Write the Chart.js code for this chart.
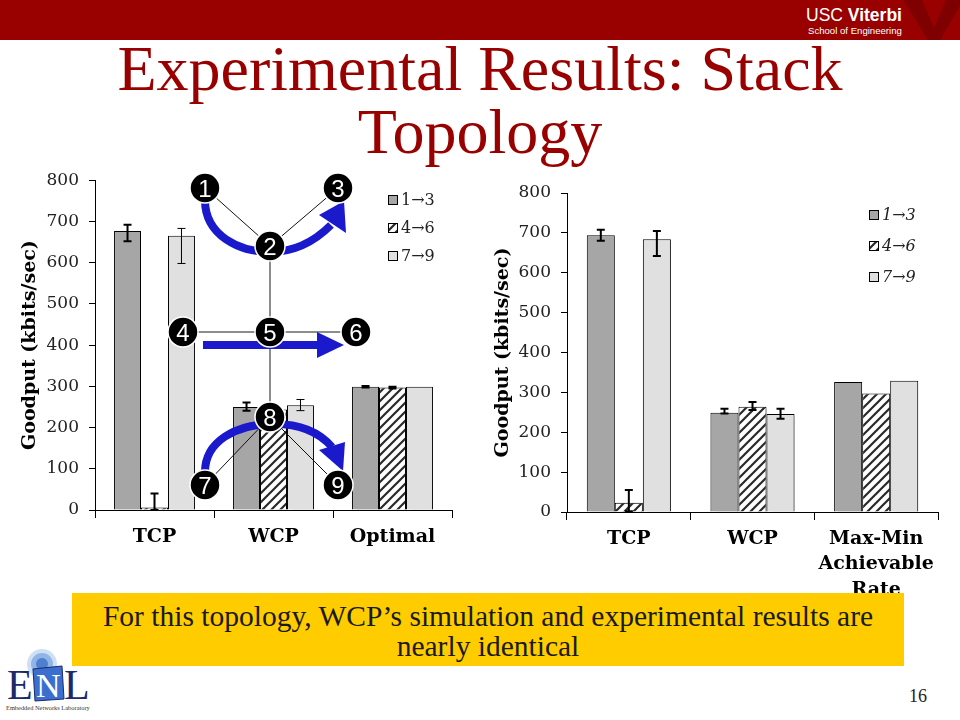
<!DOCTYPE html>
<html>
<head>
<meta charset="utf-8">
<script src="https://cdn.jsdelivr.net/npm/chart.js@4"></script>
<style>
  body { margin: 0; width: 960px; height: 720px; position: relative; overflow: hidden; background: #fff; font-family: "Liberation Serif", serif; }
  .abs { position: absolute; }
  #title { left: 0; top: 37px; width: 960px; text-align: center; font-size: 64px; line-height: 63px; color: #990000; }
  #note { left: 72px; top: 593px; width: 832px; height: 73px; background: #ffcc00; box-sizing: border-box; padding-top: 8px;
          text-align: center; font-size: 29.5px; line-height: 30px; color: #1a1a1a; z-index: 3; }
  #page { left: 909px; top: 686px; font-size: 18px; color: #222; }
</style>
</head>
<body>

<!-- header bar -->
<svg class="abs" style="left:0;top:0" width="960" height="40">
  <rect x="0" y="0" width="960" height="40" fill="#990000"/>
  <polygon points="903,0 922,0 934,28 946,0 960,0 960,6 940,40 928,40" fill="#7e0000"/>
  <text x="806" y="21" fill="#fff" font-family="Liberation Sans" font-size="17.5">USC <tspan font-weight="bold">Viterbi</tspan></text>
  <text x="808" y="34" fill="#fff" font-family="Liberation Sans" font-size="9.6">School of Engineering</text>
</svg>

<div id="title" class="abs">Experimental Results: Stack<br>Topology</div>

<canvas id="leftChart" class="abs" style="left:0;top:160px" width="470" height="400"></canvas>
<canvas id="rightChart" class="abs" style="left:480px;top:170px" width="480" height="440"></canvas>

<!-- stack topology drawing laid over the left chart -->
<svg class="abs" style="left:0;top:0;z-index:2" width="480" height="560">
  <g stroke="#111" stroke-width="1">
    <line x1="205" y1="188" x2="270" y2="246"/>
    <line x1="338" y1="188" x2="270" y2="246"/>
    <line x1="205" y1="485" x2="270" y2="417"/>
    <line x1="338" y1="485" x2="270" y2="417"/>
  </g>
  <g stroke="#666" stroke-width="1.5">
    <line x1="270" y1="246" x2="270" y2="417"/>
    <line x1="183" y1="332" x2="356" y2="332"/>
  </g>
  <g fill="none" stroke="#1a1acc" stroke-width="8">
    <path d="M205,200 C205,236 240,252 270,252 C296,252 316,240 331,225"/>
    <path d="M203,345 L320,345"/>
    <path d="M205,472 C205,441 236,425 270,424 C300,423 320,433 332,447"/>
  </g>
  <g fill="#1a1acc">
    <polygon points="344,201 319,215 346,233"/>
    <polygon points="317,332 344,345 317,358"/>
    <polygon points="345,442 319,450 343,471"/>
  </g>
  <g fill="#000" stroke="#fff" stroke-width="1.5">
    <circle cx="205" cy="188" r="15"/><circle cx="270" cy="246" r="15"/><circle cx="338" cy="188" r="15"/>
    <circle cx="183" cy="332" r="15"/><circle cx="270" cy="332" r="15"/><circle cx="356" cy="332" r="15"/>
    <circle cx="205" cy="485" r="15"/><circle cx="270" cy="417" r="15"/><circle cx="338" cy="485" r="15"/>
  </g>
  <g fill="#fff" font-family="Liberation Sans" font-size="24" text-anchor="middle">
    <text x="205" y="197">1</text><text x="270" y="255">2</text><text x="338" y="197">3</text>
    <text x="183" y="341">4</text><text x="270" y="341">5</text><text x="356" y="341">6</text>
    <text x="205" y="494">7</text><text x="270" y="426">8</text><text x="338" y="494">9</text>
  </g>
</svg>

<div id="note" class="abs">For this topology, WCP’s simulation and experimental results are<br>nearly identical</div>

<!-- ENL logo -->
<svg class="abs" style="left:0;top:640px" width="110" height="80">
  <circle cx="42" cy="24" r="15" fill="#cfe0f5"/>
  <circle cx="42" cy="24" r="11" fill="#8fb4e6"/>
  <circle cx="42" cy="24" r="6" fill="#4f7fcf"/>
  <text x="7" y="59" fill="#1b2a6b" font-family="Liberation Serif" font-size="42">E</text>
  <polygon points="33,29 62,26 64,59 35,61" fill="#3a6fd0" stroke="#1b2a6b" stroke-width="1"/>
  <text x="36" y="57" fill="#fff" font-family="Liberation Serif" font-size="34">N</text>
  <text x="64" y="59" fill="#1b2a6b" font-family="Liberation Serif" font-size="42">L</text>
  <text x="6" y="70" fill="#333" font-family="Liberation Serif" font-size="6.4">Embedded Networks Laboratory</text>
</svg>

<div id="page" class="abs">16</div>

<script>
// flows shown in both charts
const flowLabels = ['1→3', '4→6', '7→9'];

// left chart: testbed experiment
const leftCategories = ['TCP', 'WCP', 'Optimal'];
const left13 = [677, 250, 299];
const left46 = [6, 244, 297];
const left79 = [665, 254, 299];
const left13Low = [652, 241, 297];
const left13High = [692, 261, 301];
const left46Low = [0, 236, 295];
const left46High = [40, 252, 299];
const left79Low = [598, 241, null];
const left79High = [683, 268, null];

// right chart: simulation
const rightCategories = ['TCP', 'WCP', ['Max-Min', 'Achievable', 'Rate']];
const right13 = [694, 249, 326];
const right46 = [23, 264, 297];
const right79 = [684, 246, 329];
const right13Low = [680, 247, null];
const right13High = [708, 259, null];
const right46Low = [2, 256, null];
const right46High = [55, 276, null];
const right79Low = [642, 234, null];
const right79High = [705, 259, null];

const yTicks = [0, 100, 200, 300, 400, 500, 600, 700, 800];

// diagonal hatching for the 4->6 flow
function makeHatch() {
  const c = document.createElement('canvas');
  c.width = 9; c.height = 9;
  const g = c.getContext('2d');
  g.fillStyle = '#fff';
  g.fillRect(0, 0, 9, 9);
  g.strokeStyle = '#2a2a2a';
  g.lineWidth = 2.2;
  g.beginPath();
  g.moveTo(0, 9); g.lineTo(9, 0);
  g.moveTo(-2, 2); g.lineTo(2, -2);
  g.moveTo(7, 11); g.lineTo(11, 7);
  g.stroke();
  return g.createPattern(c, 'repeat');
}
const hatch = makeHatch();
const fills = ['#a6a6a6', hatch, '#e0e0e0'];

const barShadow = {
  id: 'barShadow',
  beforeDatasetsDraw(chart) {
    const ctx = chart.ctx;
    ctx.save();
    ctx.shadowColor = 'rgba(0,0,0,0.18)';
    ctx.shadowBlur = 3;
    ctx.shadowOffsetX = 3;
    ctx.shadowOffsetY = 2;
  },
  afterDatasetsDraw(chart) {
    chart.ctx.restore();
  }
};

const errorBars = {
  id: 'errorBars',
  afterDatasetsDraw(chart) {
    const ctx = chart.ctx;
    const y = chart.scales.y;
    const area = chart.chartArea;
    chart.data.datasets.forEach((ds, i) => {
      chart.getDatasetMeta(i).data.forEach((bar, j) => {
        if (ds.errLow[j] == null) return;
        const top = y.getPixelForValue(ds.errHigh[j]);
        const bot = Math.min(y.getPixelForValue(ds.errLow[j]), area.bottom);
        ctx.save();
        ctx.strokeStyle = '#000';
        ctx.lineWidth = ds.errWidth;
        ctx.beginPath();
        ctx.moveTo(bar.x, top); ctx.lineTo(bar.x, bot);
        ctx.moveTo(bar.x - 4, top); ctx.lineTo(bar.x + 4, top);
        ctx.moveTo(bar.x - 4, bot); ctx.lineTo(bar.x + 4, bot);
        ctx.stroke();
        ctx.restore();
      });
    });
  }
};

const flowLegend = {
  id: 'flowLegend',
  afterDraw(chart, args, opts) {
    const ctx = chart.ctx;
    chart.data.datasets.forEach((ds, i) => {
      const cy = opts.y + i * opts.gap;
      ctx.save();
      ctx.fillStyle = ds.backgroundColor;
      ctx.fillRect(opts.x, cy - 5, 10, 10);
      ctx.strokeStyle = '#000';
      ctx.lineWidth = 1;
      ctx.strokeRect(opts.x + 0.5, cy - 4.5, 9, 9);
      ctx.fillStyle = '#222';
      ctx.font = opts.font;
      ctx.textBaseline = 'middle';
      ctx.fillText(ds.label, opts.x + 13, cy + 1);
      ctx.restore();
    });
  }
};

function makeChart(id, labels, series, lows, highs, widths, lay) {
  const datasets = series.map((d, i) => ({
    label: flowLabels[i],
    data: d,
    backgroundColor: fills[i],
    borderColor: '#000',
    borderWidth: 1,
    categoryPercentage: 0.68,
    barPercentage: 1.0,
    errLow: lows[i],
    errHigh: highs[i],
    errWidth: widths[i]
  }));
  return new Chart(document.getElementById(id), {
    type: 'bar',
    data: { labels: labels, datasets: datasets },
    plugins: [barShadow, errorBars, flowLegend],
    options: {
      responsive: false,
      animation: false,
      layout: { padding: { top: lay.top, right: lay.right, left: 0, bottom: 0 } },
      plugins: {
        legend: { display: false },
        tooltip: { enabled: false },
        flowLegend: lay.legend
      },
      scales: {
        x: {
          grid: { offset: true, drawOnChartArea: false, drawTicks: true, tickLength: 8, color: '#000' },
          border: { color: '#000', width: 1 },
          ticks: { color: '#000', padding: 6, maxRotation: 0,
                   font: { family: 'DejaVu Serif', weight: 'bold', size: 19, lineHeight: 1.35 } },
          afterFit: s => { s.height = lay.xHeight; }
        },
        y: {
          min: 0,
          max: 800,
          afterBuildTicks: s => { s.ticks = yTicks.map(v => ({ value: v })); },
          grid: { drawOnChartArea: false, drawTicks: true, tickLength: 6, color: '#000' },
          border: { color: '#000', width: 1 },
          ticks: { color: '#222', padding: 10, font: { family: 'DejaVu Serif', size: 17 } },
          title: { display: true, text: 'Goodput (kbits/sec)', color: '#000',
                   padding: { top: lay.titlePad, bottom: 0 },
                   font: { family: 'DejaVu Serif', weight: 'bold', size: 19 } },
          afterFit: s => { s.width = lay.yWidth; }
        }
      }
    }
  });
}

makeChart('leftChart', leftCategories,
  [left13, left46, left79],
  [left13Low, left46Low, left79Low],
  [left13High, left46High, left79High],
  [2, 2, 1],
  { top: 20, right: 18, xHeight: 50, yWidth: 95, titlePad: 19,
    legend: { x: 388, y: 40, gap: 28, font: '16px "DejaVu Serif"' } });

makeChart('rightChart', rightCategories,
  [right13, right46, right79],
  [right13Low, right46Low, right79Low],
  [right13High, right46High, right79High],
  [2, 2, 2],
  { top: 23, right: 22, xHeight: 98, yWidth: 87, titlePad: 12,
    legend: { x: 389, y: 45, gap: 31, font: 'italic 16px "DejaVu Serif"' } });
</script>
</body>
</html>
